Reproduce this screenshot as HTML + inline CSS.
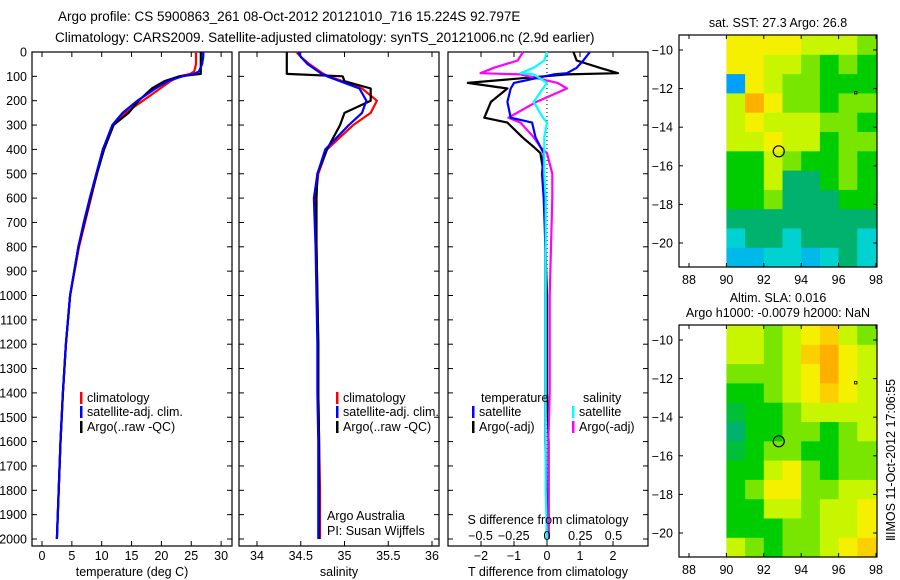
<!DOCTYPE html>
<html><head><meta charset="utf-8">
<style>
html,body{margin:0;padding:0;background:#fff;}
svg{display:block;font-family:"Liberation Sans",sans-serif;}
</style></head>
<body>
<svg id="fig" width="900" height="580" viewBox="0 0 900 580">
<text x="58" y="21" font-size="13.5">Argo profile: CS 5900863_261 08-Oct-2012 20121010_716 15.224S 92.797E</text>
<text x="55" y="42" font-size="13.5">Climatology: CARS2009. Satellite-adjusted climatology: synTS_20121006.nc (2.9d earlier)</text>
</svg>
<script>
// ---------- data ----------
const depths = [0,20,50,80,90,100,120,150,200,250,300,400,500,600,700,800,1000,1200,1400,1600,1800,2000];
const tempClim = [25.8,25.8,25.8,25.5,24.8,23.0,21.5,19.8,16.9,14.0,11.9,10.2,9.2,8.2,7.2,6.2,4.7,4.0,3.5,3.1,2.8,2.5];
const tempSat  = [27.0,27.0,26.8,26.3,25.5,23.5,21.0,19.0,16.0,13.5,11.8,10.2,9.1,8.0,7.0,6.1,4.7,4.0,3.5,3.1,2.8,2.5];
const tempArgo = [26.6,26.6,26.6,26.6,26.6,23.0,20.5,18.4,16.2,14.5,12.0,10.4,9.2,8.1,7.1,6.1,4.7,4.0,3.5,3.1,2.8,2.5];
const salClim = [34.45,34.5,34.6,34.72,34.76,34.82,34.98,35.2,35.37,35.3,35.1,34.8,34.7,34.67,34.67,34.68,34.69,34.7,34.7,34.71,34.72,34.72];
const salSat  = [34.47,34.5,34.58,34.7,34.74,34.8,34.95,35.17,35.25,35.2,35.05,34.78,34.69,34.65,34.66,34.67,34.68,34.69,34.69,34.7,34.7,34.7];
const salArgo = [34.34,34.34,34.34,34.34,34.34,34.98,35.0,35.3,35.3,35.0,34.95,34.8,34.69,34.68,34.68,34.68,34.69,34.7,34.7,34.71,34.71,34.71];
const diffDepths = [0,35,65,87,92,127,150,205,270,290,350,390,415,500,600,800,1000,1200,1400,1600,1800,2000];
const tDiffArgo = [0.8,0.9,1.6,2.15,0.6,-2.4,-1.2,-1.7,-1.9,-1.2,-0.75,-0.4,-0.2,-0.1,-0.05,-0.05,0,0,0,0.05,0.05,0.05];
const tDiffSat  = [1.3,1.1,0.9,0.6,0.2,-1.0,-1.1,-1.2,-1.1,-0.45,-0.35,-0.2,-0.1,-0.15,-0.1,-0.05,-0.05,-0.05,-0.05,-0.05,-0.02,0];
const sDiffSat  = [0,-0.02,-0.1,-0.2,-0.1,0,-0.03,-0.1,-0.03,0,-0.02,-0.02,-0.02,-0.02,-0.01,-0.01,-0.01,-0.01,-0.01,-0.01,-0.01,0];
const sDiffArgo = [-0.18,-0.22,-0.4,-0.5,-0.2,0.08,0.15,-0.08,-0.29,-0.2,-0.1,-0.05,0,0.04,0.04,0.03,0.02,0.02,0.02,0.01,0.01,0.01];
const depthTicks = [0,100,200,300,400,500,600,700,800,900,1000,1100,1200,1300,1400,1500,1600,1700,1800,1900,2000];
const tempTicks = [0,5,10,15,20,25,30];
const salTicks = [34,34.5,35,35.5,36];
const tdTicks = [-2,-1,0,1,2];
const sdTicks = [-0.5,-0.25,0,0.25,0.5];
const sdTickLabels = ["\u22120.5","\u22120.25","0","0.25","0.5"];
const lonTicks = [88,90,92,94,96,98];
const latTicks = [-10,-12,-14,-16,-18,-20];
const gridLons = [90.5,91.5,92.5,93.5,94.5,95.5,96.5,97.5];
const gridLats = [-9.75,-10.75,-11.75,-12.75,-13.75,-14.75,-15.75,-16.75,-17.75,-18.75,-19.75,-20.75];
const sstGrid = [
 [8,8,8,8,7,7,7,6],[8,8,7,7,6,5,6,5],[2,8,7,6,6,5,5,5],[7,9,8,6,6,5,6,6],
 [7,8,7,7,7,6,6,5],[7,7,8,7,7,5,6,6],[5,5,7,6,5,5,6,5],[5,5,7,4,4,5,6,5],
 [5,5,6,4,4,4,5,5],[4,4,4,4,4,4,4,4],[3,4,4,3,4,4,4,3],[2.5,2.5,3,3,2.5,3,4,3]];
const slaGrid = [
 [7,7,6,7,8,8.5,7,6],[7,7,6,7,8.5,9,8,7],[6,6,6,7,8,9,8,7],[5,5,6,7,8,8.5,8,7],
 [4.5,5,5,6,7,7,7,7],[4,5,5,6,6,5,6,7],[4.5,5,6,6,5,5,6,6],[5,5,7,8,6,5,6,6],
 [5,6,8,8,6,6,7,7],[5,5,7,7,6,7,7,8],[5,5,5,6,6,7,7,8],[7,6,5,6,6,7,8,8.5]];
const argoLon = 92.8, argoLat = -15.25;

// ---------- helpers ----------
const NS="http://www.w3.org/2000/svg";
const svg=document.getElementById('fig');
function mk(tag,attrs,parent){const e=document.createElementNS(NS,tag);for(const k in attrs)e.setAttribute(k,attrs[k]);(parent||svg).appendChild(e);return e;}
function txt(x,y,s,size,anchor,parent){const t=mk('text',{x:x,y:y,'font-size':size||12,'text-anchor':anchor||'start'},parent);t.textContent=s;return t;}
const yD = d => 52 + d*0.2435;
const PT=52, PB=546;

function panel(x0,x1,name,ticks,xf,labels,tickY){
  const g=mk('g',{});
  
  
  const r=mk('rect',{x:x0,y:PT,width:x1-x0,height:PB-PT,fill:'none',stroke:'#000','stroke-width':1.2},g);
  
  
  depthTicks.forEach(d=>{const y=yD(d);
    mk('line',{x1:x0,x2:x0+5,y1:y,y2:y,stroke:'#000'},g);
    mk('line',{x1:x1-5,x2:x1,y1:y,y2:y,stroke:'#000'},g);});
  ticks.forEach((v,i)=>{const x=xf(v);
    mk('line',{x1:x,x2:x,y1:PT,y2:PT+5,stroke:'#000'},g);
    mk('line',{x1:x,x2:x,y1:PB-5,y2:PB,stroke:'#000'},g);
    if(labels){const t=txt(x,tickY,labels[i],12.5,'middle',g);
      
      }
  });
  return g;
}
function line(xs,ds,xf,color,name,parent,w){
  const pts=xs.map((v,i)=>xf(v).toFixed(1)+','+yD(ds[i]).toFixed(1)).join(' ');
  const p=mk('polyline',{points:pts,fill:'none',stroke:color,'stroke-width':w||2.2,'stroke-linejoin':'round'},parent);
  
  
  return p;
}
function legendEntry(x,y,color,label,parent){
  const g=mk('g',{},parent);
  
  
  if(color) mk('rect',{x:x,y:y-10,width:2.5,height:12,fill:color},g);
  txt(x+7,y,label,12.5,'start',g);
}

// depth tick labels
depthTicks.forEach(d=>{const t=txt(27,yD(d)+4.5,String(d),12.5,'end');
  
  });

// Panel 1: temperature
const xT = v => 42 + v*5.97;
const p1=panel(32,232,'temperature-panel',tempTicks,xT,tempTicks.map(String),560);
line(tempClim,depths,xT,'#f00','temperature-climatology-line',p1);
line(tempSat,depths,xT,'#00f','temperature-satellite-line',p1);
line(tempArgo,depths,xT,'#000','temperature-argo-line',p1);
line(tempSat,depths,xT,'#00f','temperature-satellite-line-top',p1,2);
legendEntry(80,402,'#f00','climatology',p1);
legendEntry(80,416,'#00f','satellite-adj. clim.',p1);
legendEntry(80,431,'#000','Argo(..raw -QC)',p1);
const xl1=txt(132,576,'temperature (deg C)',12.5,'middle');  

// Panel 2: salinity
const xS = v => 257 + (v-34)*87.5;
const p2=panel(239,439,'salinity-panel',salTicks,xS,salTicks.map(String),560);
line(salClim,depths,xS,'#f00','salinity-climatology-line',p2);
line(salArgo,depths,xS,'#000','salinity-argo-line',p2);
line(salSat,depths,xS,'#00f','salinity-satellite-line',p2);
legendEntry(336,402,'#f00','climatology',p2);
legendEntry(336,416,'#00f','satellite-adj. clim.',p2);
legendEntry(336,431,'#000','Argo(..raw -QC)',p2);
let t=txt(327,520,'Argo Australia',12.5);  
t=txt(327,535,'PI: Susan Wijffels',12.5);  
t=txt(339,576,'salinity',12.5,'middle');  

// Panel 3: differences
const xTD = v => 547 + v*33;
const xSD = v => 547 + v*133;
const p3=panel(448,648,'difference-panel',tdTicks,xTD,tdTicks.map(v=>v<0?'\u2212'+(-v):String(v)),560);
mk('line',{x1:547,x2:547,y1:PT,y2:PB,stroke:'#000','stroke-dasharray':'1,3'},p3);
line(tDiffArgo,diffDepths,xTD,'#000','temperature-diff-argo-line',p3);
line(sDiffArgo,diffDepths,xSD,'#f0f','salinity-diff-argo-line',p3);
line(tDiffSat,diffDepths,xTD,'#00f','temperature-diff-satellite-line',p3);
line(sDiffSat,diffDepths,xSD,'#0ff','salinity-diff-satellite-line',p3);
legendEntry(474,402,null,'temperature',p3);
legendEntry(576,402,null,'salinity',p3);
legendEntry(472,416,'#00f','satellite',p3);
legendEntry(472,431,'#000','Argo(-adj)',p3);
legendEntry(572,416,'#0ff','satellite',p3);
legendEntry(572,431,'#f0f','Argo(-adj)',p3);
t=txt(548,524,'S difference from climatology',12.5,'middle');  
sdTicks.forEach((v,i)=>{const tt=txt(xSD(v),540,sdTickLabels[i],12.5,'middle');
  
  });
t=txt(548,576,'T difference from climatology',12.5,'middle');  

// ---------- maps ----------
const stops=[[0,[0,0,140]],[1,[0,0,255]],[2,[0,160,255]],[3,[0,210,210]],[4,[0,178,110]],[5,[0,205,0]],[6,[120,230,0]],[7,[200,245,0]],[8,[245,240,0]],[9,[255,175,0]],[10,[255,100,0]]];
function col(v){for(let i=0;i<stops.length-1;i++){if(v<=stops[i+1][0]){const f=(v-stops[i][0])/(stops[i+1][0]-stops[i][0]);const a=stops[i][1],b=stops[i+1][1];return 'rgb('+a.map((c,k)=>Math.round(c+(b[k]-c)*f)).join(',')+')';}}return 'rgb(255,100,0)';}
function drawMap(top,grid,name){
  const xL = lon => 689 + (lon-88)*18.7;
  const yL = lat => (top+15) + (-10-lat)*19.3;
  const g=mk('g',{});
  
  
  const cw=18.7, ch=19.3;
  grid.forEach((row,r)=>row.forEach((v,c)=>{
    const cell=mk('rect',{x:(xL(gridLons[c])-cw/2).toFixed(1),y:(yL(gridLats[r])-ch/2).toFixed(1),width:cw+0.5,height:ch+0.5,fill:col(v)},g);
    
    
  }));
  const fr=mk('rect',{x:679,y:top,width:198,height:232,fill:'none',stroke:'#000','stroke-width':1.2},g);
  
  
  lonTicks.forEach(l=>{const x=xL(l);
    mk('line',{x1:x,x2:x,y1:top,y2:top+4,stroke:'#000'},g);
    mk('line',{x1:x,x2:x,y1:top+232-4,y2:top+232,stroke:'#000'},g);
    const tt=txt(x,top+249,String(l),12.5,'middle',g);
    
    });
  latTicks.forEach(l=>{const y=yL(l);
    mk('line',{x1:679,x2:683,y1:y,y2:y,stroke:'#000'},g);
    mk('line',{x1:873,x2:877,y1:y,y2:y,stroke:'#000'},g);
    const tt=txt(673,y+4.5,'\u2212'+(-l),12.5,'end',g);
    
    });
  const c=mk('circle',{cx:xL(argoLon),cy:yL(argoLat),r:5.5,fill:'none',stroke:'#000','stroke-width':1.2},g);
  
  
  mk('rect',{x:xL(96.9)-1,y:yL(-12.2)-1,width:2.5,height:2.5,fill:'none',stroke:'#000','stroke-width':0.8},g);
}
drawMap(35,sstGrid,'sst-map');
drawMap(325,slaGrid,'sla-map');
t=txt(778,27,'sat. SST: 27.3 Argo: 26.8',12.5,'middle');  
t=txt(778,302,'Altim. SLA: 0.016',12.5,'middle');  
t=txt(778,317,'Argo h1000: -0.0079 h2000: NaN',12.5,'middle');  
t=mk('text',{x:0,y:0,'font-size':12.5,'text-anchor':'middle',transform:'translate(895,460) rotate(-90)'});
t.textContent='\u2161IMOS 11-Oct-2012 17:06:55';


</script>
</body></html>
